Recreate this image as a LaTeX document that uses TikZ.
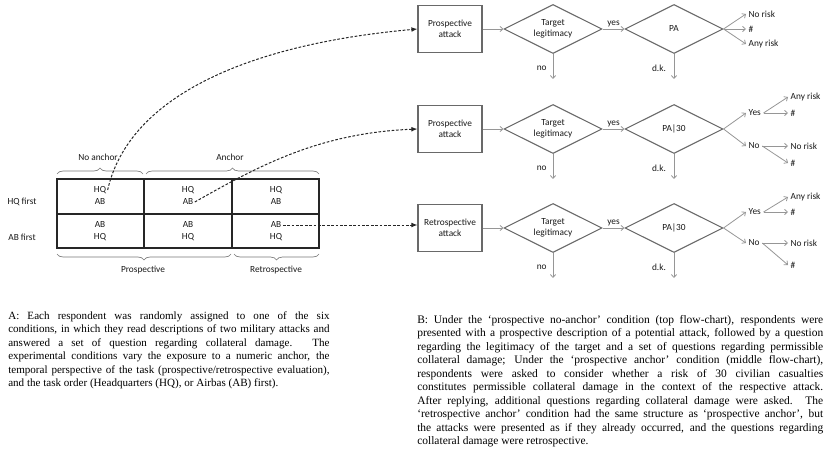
\documentclass[tikz,border=0pt]{standalone}
\usepackage{fontspec}
\setmainfont{Liberation Serif}
\newfontfamily\calibri{Carlito}
\usetikzlibrary{shapes.geometric,arrows.meta,decorations.pathreplacing}
\definecolor{shapegray}{RGB}{105,105,105}
\definecolor{arrowgray}{RGB}{150,150,150}
\definecolor{bracegray}{RGB}{120,120,120}
\newcommand\jlA[1]{\hbox to 241pt{#1}}
\newcommand\jlB[1]{\hbox to 304.5pt{#1}}
\begin{document}
\begin{tikzpicture}[x=0.75pt,y=-0.75pt,
  lbl/.style={font=\calibri\fontsize{7}{8.6}\selectfont, inner sep=1pt, align=center, text=black!90},
  attackbox/.style={lbl, draw=shapegray, line width=0.9pt, minimum width=48pt, minimum height=35.25pt},
  decision/.style={lbl, shape=diamond, aspect=2, draw=shapegray, line width=0.8pt, inner sep=0pt, minimum width=73.5pt, minimum height=36.75pt},
  flow/.style={arrowgray, line width=0.6pt, -{Straight Barb[length=2.2pt,width=4pt]}},
  dasharrow/.style={black!85, line width=0.75pt, dash pattern=on 2pt off 1.3pt, -{Latex[length=4.5pt,width=3.6pt]}},
  outcome/.style={lbl, anchor=west, inner sep=1.8pt},
  gridline/.style={line width=1.1pt, black!85},
  brc/.style={bracegray, line width=0.5pt, decorate, decoration={brace, amplitude=4.5pt}},
  captionA/.style={anchor=base west, inner sep=0pt, font=\fontsize{8.3}{10.15}\selectfont},
  captionB/.style={anchor=base west, inner sep=0pt, font=\fontsize{8.6}{10.15}\selectfont}
]
\useasboundingbox (0,0) rectangle (824,449);

% ---------- table ----------
\draw[gridline] (57,179) rectangle (319,248);
\draw[gridline] (57,214) -- (319,214);
\draw[gridline] (144,179) -- (144,248);
\draw[gridline] (232,179) -- (232,248);

\node[lbl] (r1) at (22,202) {HQ first};
\node[lbl] (r2) at (22,237) {AB first};

\node[lbl] (c11h) at (100,190) {HQ};
\node[lbl] (c11l) at (100,202) {AB};
\node[lbl] (c12h) at (188,190) {HQ};
\node[lbl] (c12l) at (188,202) {AB};
\node[lbl] (c13h) at (276,190) {HQ};
\node[lbl] (c13l) at (276,202) {AB};
\node[lbl] (c21h) at (100,225) {AB};
\node[lbl] (c21l) at (100,237) {HQ};
\node[lbl] (c22h) at (188,225) {AB};
\node[lbl] (c22l) at (188,237) {HQ};
\node[lbl] (c23h) at (276,225) {AB};
\node[lbl] (c23l) at (276,237) {HQ};

% braces
\draw[brc] (57,174) -- (143,174);
\draw[brc] (146,174) -- (319,174);
\node[lbl] (noanchor) at (98,157) {No anchor};
\node[lbl] (anchor) at (230,157) {Anchor};
\draw[brc] (231,254) -- (57,254);
\draw[brc] (319,254) -- (234,254);
\node[lbl] (prosp) at (143,270) {Prospective};
\node[lbl] (retro) at (276,270) {Retrospective};

% ---------- flow charts ----------
% row 1
\node[attackbox] (b1) at (450,29) {Prospective\\attack};
\node[decision] (t1) at (553,29) {Target\\legitimacy};
\node[decision] (p1) at (674,29) {PA};
\draw[flow] (b1) -- (t1);
\draw[flow] (t1) -- node[lbl, above=0.5pt] {yes} (p1);
\coordinate (n1) at (553,79);
\coordinate (d1) at (674,79);
\draw[flow] (t1.south) -- node[lbl, left=3.5pt, pos=0.58] {no} (n1);
\draw[flow] (p1.south) -- node[lbl, left=4.8pt, pos=0.58] {d.k.} (d1);
\node[outcome] (o1a) at (746,14) {No risk};
\node[outcome] (o1b) at (746,29) {\#};
\node[outcome] (o1c) at (746,44) {Any risk};
\draw[flow] (p1.east) -- (o1a.west);
\draw[flow] (p1.east) -- (o1b.west);
\draw[flow] (p1.east) -- (o1c.west);

% row 2
\node[attackbox] (b2) at (450,129) {Prospective\\attack};
\node[decision] (t2) at (553,129) {Target\\legitimacy};
\node[decision] (p2) at (674,129) {PA|30};
\draw[flow] (b2) -- (t2);
\draw[flow] (t2) -- node[lbl, above=0.5pt] {yes} (p2);
\coordinate (n2) at (553,179);
\coordinate (d2) at (674,179);
\draw[flow] (t2.south) -- node[lbl, left=3.5pt, pos=0.58] {no} (n2);
\draw[flow] (p2.south) -- node[lbl, left=4.8pt, pos=0.58] {d.k.} (d2);
\node[outcome] (y2) at (746,113) {Yes};
\node[outcome] (no2) at (746,146) {No};
\draw[flow] (p2.east) -- (y2.west);
\draw[flow] (p2.east) -- (no2.west);
\node[outcome] (y2a) at (788,97) {Any risk};
\node[outcome] (y2b) at (788,113) {\#};
\node[outcome] (n2a) at (788,146) {No risk};
\node[outcome] (n2b) at (788,163) {\#};
\draw[flow] (y2.east) -- (y2a.west);
\draw[flow] (y2.east) -- (y2b.west);
\draw[flow] (no2.east) -- (n2a.west);
\draw[flow] (no2.east) -- (n2b.west);

% row 3
\node[attackbox] (b3) at (450,228) {Retrospective\\attack};
\node[decision] (t3) at (553,228) {Target\\legitimacy};
\node[decision] (p3) at (674,228) {PA|30};
\draw[flow] (b3) -- (t3);
\draw[flow] (t3) -- node[lbl, above=0.5pt] {yes} (p3);
\coordinate (n3) at (553,278);
\coordinate (d3) at (674,278);
\draw[flow] (t3.south) -- node[lbl, left=3.5pt, pos=0.58] {no} (n3);
\draw[flow] (p3.south) -- node[lbl, left=4.8pt, pos=0.58] {d.k.} (d3);
\node[outcome] (y3) at (746,212) {Yes};
\node[outcome] (no3) at (746,243) {No};
\draw[flow] (p3.east) -- (y3.west);
\draw[flow] (p3.east) -- (no3.west);
\node[outcome] (y3a) at (788,197) {Any risk};
\node[outcome] (y3b) at (788,212) {\#};
\node[outcome] (n3a) at (788,243) {No risk};
\node[outcome] (n3b) at (788,265) {\#};
\draw[flow] (y3.east) -- (y3a.west);
\draw[flow] (y3.east) -- (y3b.west);
\draw[flow] (no3.east) -- (n3a.west);
\draw[flow] (no3.east) -- (n3b.west);

% ---------- dashed links ----------
\draw[dasharrow] (c11h.east) .. controls (128,100) and (240,45) .. (b1.west);
\draw[dasharrow] (c12l.east) .. controls (260,165) and (320,133) .. (b2.west);
\draw[dasharrow] (c23h.east) -- (c23h.east -| b3.west);

% ---------- captions ----------
\node[captionA] (capA) at (8,319) {\vtop{\hsize=241pt\parindent=0pt
\jlA{A: Each respondent was randomly assigned to one of the six}
\jlA{conditions, in which they read descriptions of two military attacks and}
\jlA{answered a set of question regarding collateral damage. The}
\jlA{experimental conditions vary the exposure to a numeric anchor, the}
\jlA{temporal perspective of the task (prospective/retrospective evaluation),}
\hbox{and the task order (Headquarters (HQ), or Airbas (AB) first).}}};

\node[captionB] (capB) at (417,323) {\vtop{\hsize=304.5pt\parindent=0pt
\jlB{B: Under the ‘prospective no-anchor’ condition (top flow-chart), respondents were}
\jlB{presented with a prospective description of a potential attack, followed by a question}
\jlB{regarding the legitimacy of the target and a set of questions regarding permissible}
\jlB{collateral damage; Under the ‘prospective anchor’ condition (middle flow-chart),}
\jlB{respondents were asked to consider whether a risk of 30 civilian casualties}
\jlB{constitutes permissible collateral damage in the context of the respective attack.}
\jlB{After replying, additional questions regarding collateral damage were asked. The}
\jlB{‘retrospective anchor’ condition had the same structure as ‘prospective anchor’, but}
\jlB{the attacks were presented as if they already occurred, and the questions regarding}
\hbox{collateral damage were retrospective.}}};
\end{tikzpicture}
\end{document}
